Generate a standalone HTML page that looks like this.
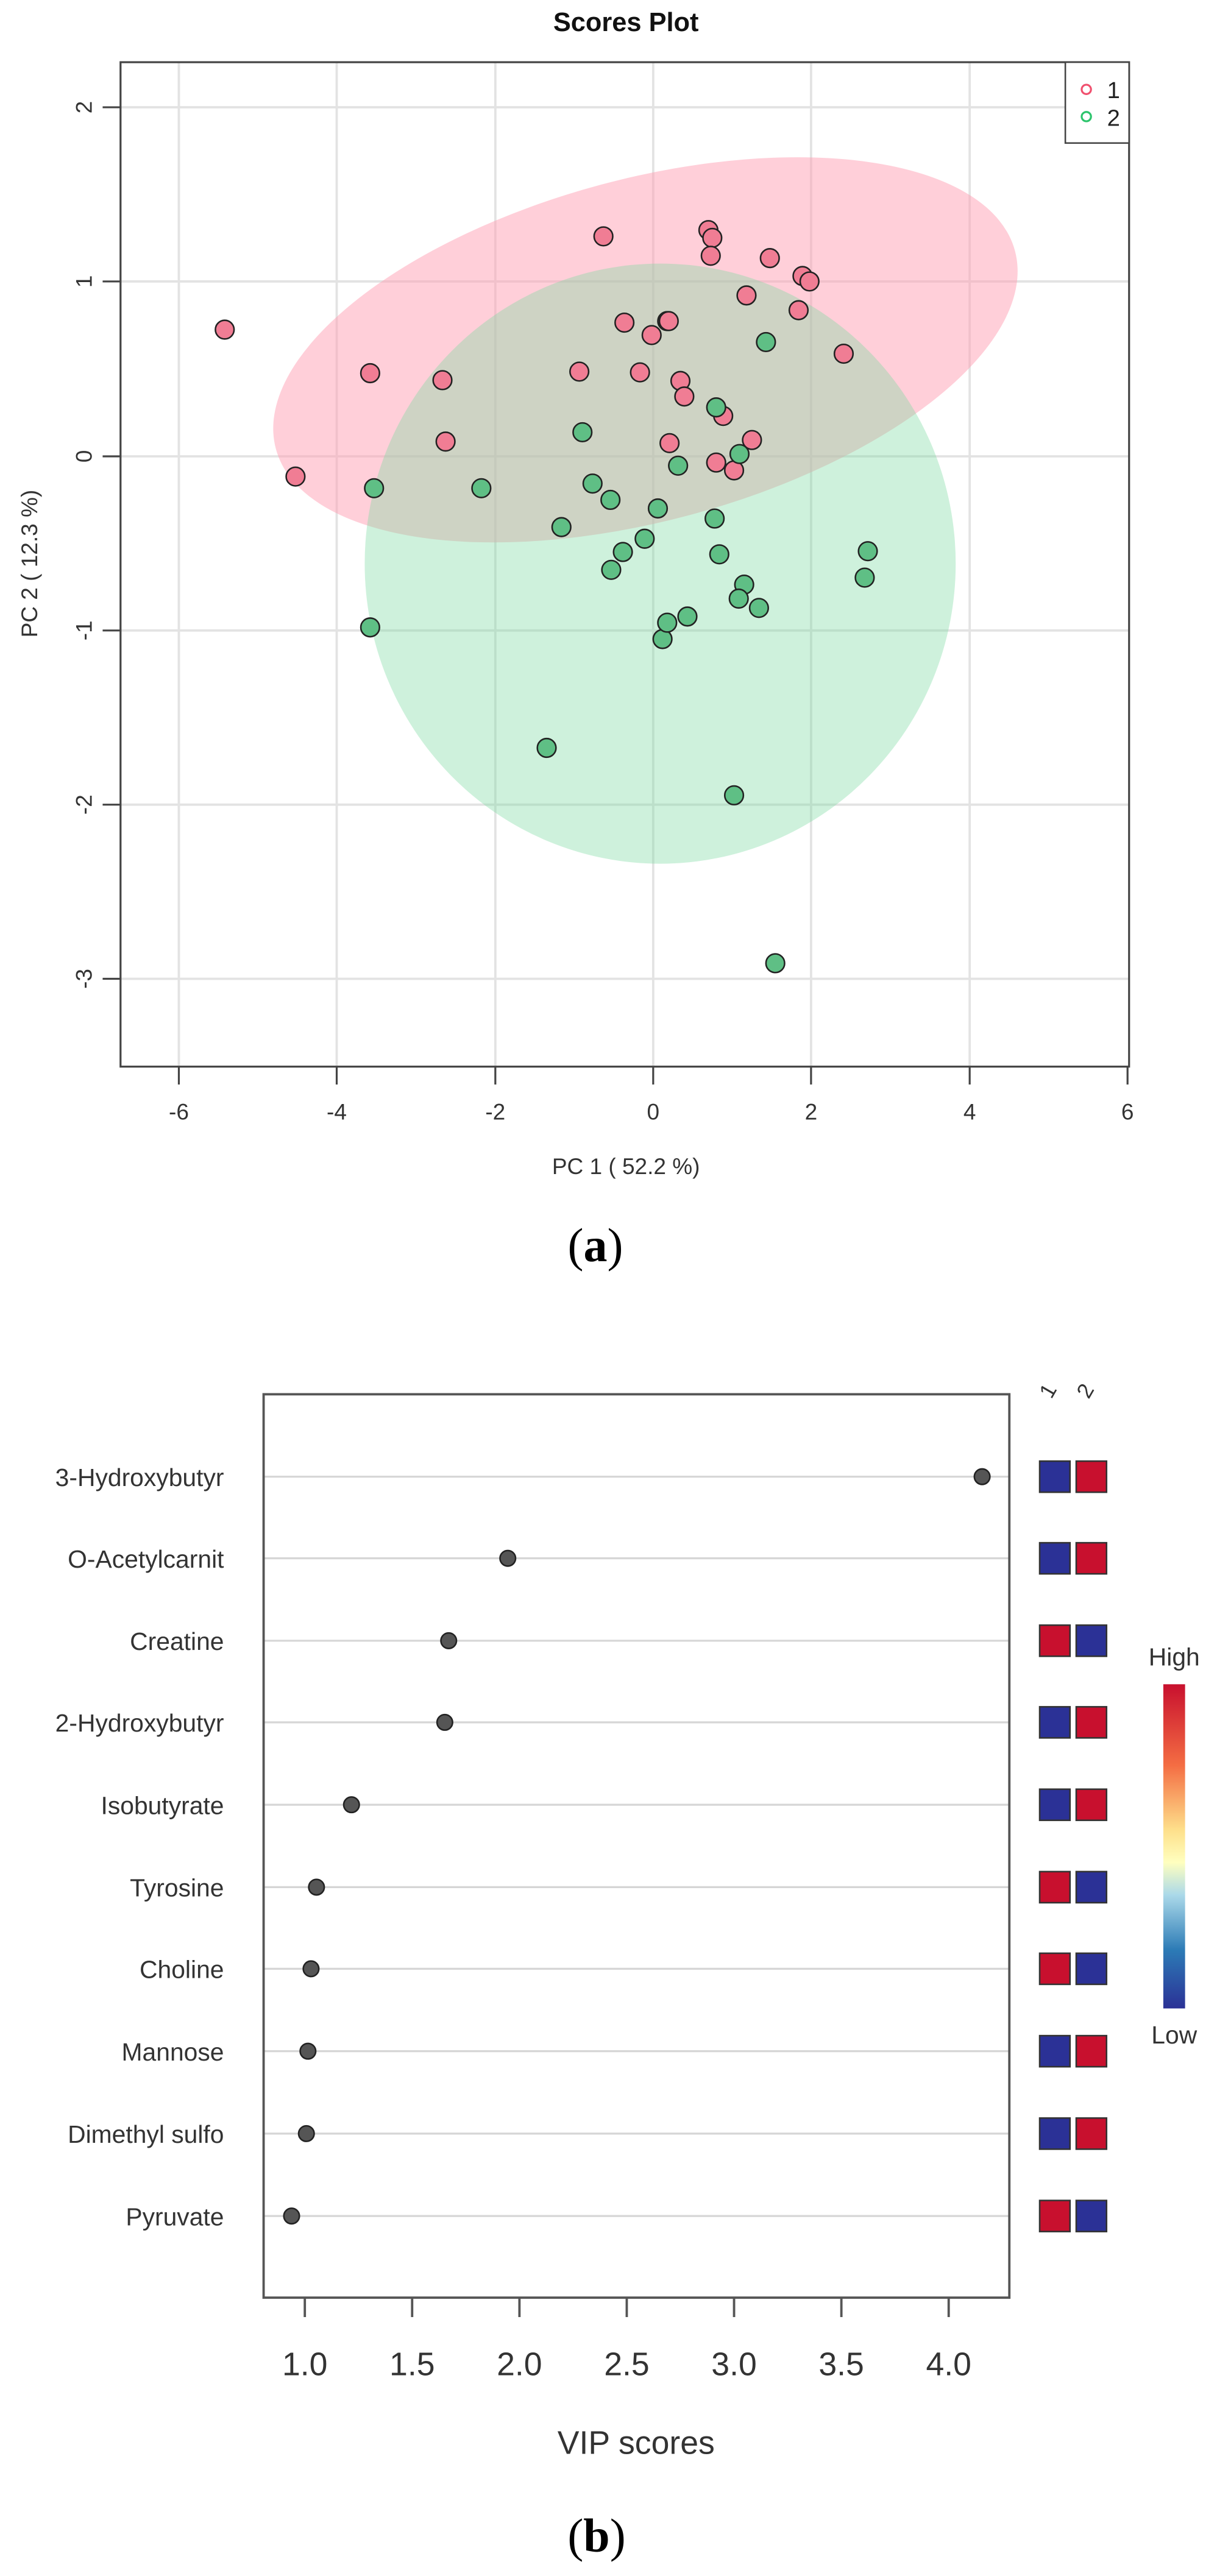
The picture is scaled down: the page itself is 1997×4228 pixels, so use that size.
<!DOCTYPE html>
<html><head><meta charset="utf-8"><style>html,body{margin:0;padding:0;background:#fff}svg{display:block}</style></head>
<body>
<svg width="1997" height="4228" viewBox="0 0 1997 4228" xmlns="http://www.w3.org/2000/svg" font-family="Liberation Sans, sans-serif">
<rect width="1997" height="4228" fill="#fff"/>
<g transform="scale(1.276)">
  <text x="805" y="40" font-size="34" font-weight="bold" text-anchor="middle" fill="#111">Scores Plot</text>
  <g stroke="#e3e3e3" stroke-width="3">
    <line x1="230" y1="80" x2="230" y2="1372"/><line x1="433" y1="80" x2="433" y2="1372"/><line x1="637" y1="80" x2="637" y2="1372"/><line x1="840" y1="80" x2="840" y2="1372"/><line x1="1043" y1="80" x2="1043" y2="1372"/><line x1="1247" y1="80" x2="1247" y2="1372"/>
    <line x1="155" y1="138" x2="1452" y2="138"/><line x1="155" y1="362" x2="1452" y2="362"/><line x1="155" y1="587" x2="1452" y2="587"/><line x1="155" y1="811" x2="1452" y2="811"/><line x1="155" y1="1035" x2="1452" y2="1035"/><line x1="155" y1="1259" x2="1452" y2="1259"/>
  </g>
  <ellipse cx="830" cy="450" rx="492" ry="220" transform="rotate(-15 830 450)" fill="#ff9fb4" fill-opacity="0.5"/>
  <ellipse cx="849" cy="725" rx="380" ry="386" fill="#7fd9a4" fill-opacity="0.38"/>
  <rect x="155" y="80" width="1297" height="1292" fill="none" stroke="#444" stroke-width="2.5"/>
  <g stroke="#444" stroke-width="2.5">
    <line x1="230" y1="1372" x2="230" y2="1395"/><line x1="433" y1="1372" x2="433" y2="1395"/><line x1="637" y1="1372" x2="637" y2="1395"/><line x1="840" y1="1372" x2="840" y2="1395"/><line x1="1043" y1="1372" x2="1043" y2="1395"/><line x1="1247" y1="1372" x2="1247" y2="1395"/><line x1="1450" y1="1372" x2="1450" y2="1395"/>
    <line x1="155" y1="138" x2="132" y2="138"/><line x1="155" y1="362" x2="132" y2="362"/><line x1="155" y1="587" x2="132" y2="587"/><line x1="155" y1="811" x2="132" y2="811"/><line x1="155" y1="1035" x2="132" y2="1035"/><line x1="155" y1="1259" x2="132" y2="1259"/>
  </g>
  <g font-size="29" fill="#333" text-anchor="middle">
    <text x="230" y="1440">-6</text><text x="433" y="1440">-4</text><text x="637" y="1440">-2</text><text x="840" y="1440">0</text><text x="1043" y="1440">2</text><text x="1247" y="1440">4</text><text x="1450" y="1440">6</text>
    <text transform="translate(118 138) rotate(-90)">2</text><text transform="translate(118 362) rotate(-90)">1</text><text transform="translate(118 587) rotate(-90)">0</text><text transform="translate(118 811) rotate(-90)">-1</text><text transform="translate(118 1035) rotate(-90)">-2</text><text transform="translate(118 1259) rotate(-90)">-3</text>
    <text x="805" y="1510">PC 1 ( 52.2 %)</text>
    <text transform="translate(48 725) rotate(-90)">PC 2 ( 12.3 %)</text>
  </g>
  <rect x="1370" y="80" width="82" height="104" fill="#fff" stroke="#444" stroke-width="2"/>
  <circle cx="1397" cy="115" r="6" fill="none" stroke="#f0506e" stroke-width="2.5"/>
  <circle cx="1397" cy="150" r="6" fill="none" stroke="#2cc46c" stroke-width="2.5"/>
  <text x="1432" y="126" font-size="30" text-anchor="middle" fill="#222">1</text>
  <text x="1432" y="162" font-size="30" text-anchor="middle" fill="#222">2</text>
  <g stroke="#222" stroke-width="2" fill="#f07d94">
    <circle cx="289" cy="424" r="12"/><circle cx="380" cy="613" r="12"/><circle cx="476" cy="480" r="12"/><circle cx="569" cy="489" r="12"/><circle cx="573" cy="568" r="12"/><circle cx="745" cy="478" r="12"/><circle cx="776" cy="304" r="12"/><circle cx="803" cy="415" r="12"/><circle cx="823" cy="479" r="12"/><circle cx="838" cy="431" r="12"/><circle cx="858" cy="413" r="12"/><circle cx="860" cy="413" r="12"/><circle cx="861" cy="570" r="12"/><circle cx="875" cy="490" r="12"/><circle cx="880" cy="510" r="12"/><circle cx="911" cy="296" r="12"/><circle cx="916" cy="306" r="12"/><circle cx="914" cy="329" r="12"/><circle cx="930" cy="535" r="12"/><circle cx="921" cy="595" r="12"/><circle cx="944" cy="605" r="12"/><circle cx="967" cy="566" r="12"/><circle cx="960" cy="380" r="12"/><circle cx="990" cy="332" r="12"/><circle cx="1032" cy="355" r="12"/><circle cx="1041" cy="362" r="12"/><circle cx="1027" cy="399" r="12"/><circle cx="1085" cy="455" r="12"/>
  </g>
  <g stroke="#222" stroke-width="2" fill="#5fbf85">
    <circle cx="481" cy="628" r="12"/><circle cx="476" cy="807" r="12"/><circle cx="619" cy="628" r="12"/><circle cx="722" cy="678" r="12"/><circle cx="749" cy="556" r="12"/><circle cx="762" cy="622" r="12"/><circle cx="785" cy="643" r="12"/><circle cx="786" cy="733" r="12"/><circle cx="801" cy="710" r="12"/><circle cx="829" cy="693" r="12"/><circle cx="846" cy="654" r="12"/><circle cx="872" cy="599" r="12"/><circle cx="852" cy="822" r="12"/><circle cx="858" cy="801" r="12"/><circle cx="884" cy="793" r="12"/><circle cx="921" cy="524" r="12"/><circle cx="919" cy="667" r="12"/><circle cx="925" cy="713" r="12"/><circle cx="951" cy="584" r="12"/><circle cx="957" cy="752" r="12"/><circle cx="950" cy="770" r="12"/><circle cx="976" cy="782" r="12"/><circle cx="985" cy="440" r="12"/><circle cx="1116" cy="709" r="12"/><circle cx="1112" cy="743" r="12"/><circle cx="703" cy="962" r="12"/><circle cx="944" cy="1023" r="12"/><circle cx="997" cy="1239" r="12"/>
  </g>
</g>
<text x="977" y="2070" font-family="Liberation Serif, serif" font-size="78" text-anchor="middle" fill="#000">(<tspan font-weight="bold">a</tspan>)</text>
<g transform="translate(0 2231) scale(1.276)">
  <g stroke="#d6d6d6" stroke-width="2.5">
    <line x1="339" y1="151" x2="1298" y2="151"/><line x1="339" y1="256" x2="1298" y2="256"/><line x1="339" y1="362" x2="1298" y2="362"/><line x1="339" y1="467" x2="1298" y2="467"/><line x1="339" y1="573" x2="1298" y2="573"/><line x1="339" y1="679" x2="1298" y2="679"/><line x1="339" y1="784" x2="1298" y2="784"/><line x1="339" y1="890" x2="1298" y2="890"/><line x1="339" y1="996" x2="1298" y2="996"/><line x1="339" y1="1102" x2="1298" y2="1102"/>
  </g>
  <rect x="339" y="45" width="959" height="1162" fill="none" stroke="#555" stroke-width="3"/>
  <g stroke="#555" stroke-width="3">
    <line x1="392" y1="1207" x2="392" y2="1232"/><line x1="530" y1="1207" x2="530" y2="1232"/><line x1="668" y1="1207" x2="668" y2="1232"/><line x1="806" y1="1207" x2="806" y2="1232"/><line x1="944" y1="1207" x2="944" y2="1232"/><line x1="1082" y1="1207" x2="1082" y2="1232"/><line x1="1220" y1="1207" x2="1220" y2="1232"/>
  </g>
  <g font-size="42" fill="#333" text-anchor="middle">
    <text x="392" y="1307">1.0</text><text x="530" y="1307">1.5</text><text x="668" y="1307">2.0</text><text x="806" y="1307">2.5</text><text x="944" y="1307">3.0</text><text x="1082" y="1307">3.5</text><text x="1220" y="1307">4.0</text>
    <text x="818" y="1408">VIP scores</text>
  </g>
  <g font-size="32" fill="#333" text-anchor="end">
    <text x="288" y="163">3-Hydroxybutyr</text><text x="288" y="268">O-Acetylcarnit</text><text x="288" y="374">Creatine</text><text x="288" y="479">2-Hydroxybutyr</text><text x="288" y="585">Isobutyrate</text><text x="288" y="691">Tyrosine</text><text x="288" y="796">Choline</text><text x="288" y="902">Mannose</text><text x="288" y="1008">Dimethyl sulfo</text><text x="288" y="1114">Pyruvate</text>
  </g>
  <g fill="#555" stroke="#222" stroke-width="2">
    <circle cx="1263" cy="151" r="10"/><circle cx="653" cy="256" r="10"/><circle cx="577" cy="362" r="10"/><circle cx="572" cy="467" r="10"/><circle cx="452" cy="573" r="10"/><circle cx="407" cy="679" r="10"/><circle cx="400" cy="784" r="10"/><circle cx="396" cy="890" r="10"/><circle cx="394" cy="996" r="10"/><circle cx="375" cy="1102" r="10"/>
  </g>
  <g stroke="#333" stroke-width="2">
    <rect x="1337" y="131" width="39" height="40" fill="#2b3196"/><rect x="1384" y="131" width="39" height="40" fill="#c8102e"/>
    <rect x="1337" y="236" width="39" height="40" fill="#2b3196"/><rect x="1384" y="236" width="39" height="40" fill="#c8102e"/>
    <rect x="1337" y="342" width="39" height="40" fill="#c8102e"/><rect x="1384" y="342" width="39" height="40" fill="#2b3196"/>
    <rect x="1337" y="447" width="39" height="40" fill="#2b3196"/><rect x="1384" y="447" width="39" height="40" fill="#c8102e"/>
    <rect x="1337" y="553" width="39" height="40" fill="#2b3196"/><rect x="1384" y="553" width="39" height="40" fill="#c8102e"/>
    <rect x="1337" y="659" width="39" height="40" fill="#c8102e"/><rect x="1384" y="659" width="39" height="40" fill="#2b3196"/>
    <rect x="1337" y="764" width="39" height="40" fill="#c8102e"/><rect x="1384" y="764" width="39" height="40" fill="#2b3196"/>
    <rect x="1337" y="870" width="39" height="40" fill="#2b3196"/><rect x="1384" y="870" width="39" height="40" fill="#c8102e"/>
    <rect x="1337" y="976" width="39" height="40" fill="#2b3196"/><rect x="1384" y="976" width="39" height="40" fill="#c8102e"/>
    <rect x="1337" y="1082" width="39" height="40" fill="#c8102e"/><rect x="1384" y="1082" width="39" height="40" fill="#2b3196"/>
  </g>
  <text transform="translate(1352 52) rotate(-60)" font-size="28" fill="#333">1</text>
  <text transform="translate(1400 52) rotate(-60)" font-size="28" fill="#333">2</text>
  <defs><linearGradient id="cb" x1="0" y1="0" x2="0" y2="1">
    <stop offset="0" stop-color="#c8102e"/><stop offset="0.25" stop-color="#f46d43"/><stop offset="0.45" stop-color="#fee08b"/><stop offset="0.55" stop-color="#ffffbf"/><stop offset="0.65" stop-color="#abd9e9"/><stop offset="0.82" stop-color="#2c7bb6"/><stop offset="1" stop-color="#2b3196"/>
  </linearGradient></defs>
  <rect x="1496" y="418" width="28" height="417" fill="url(#cb)"/>
  <text x="1510" y="394" font-size="32" text-anchor="middle" fill="#333">High</text>
  <text x="1510" y="880" font-size="32" text-anchor="middle" fill="#333">Low</text>
</g>
<text x="979" y="4188" font-family="Liberation Serif, serif" font-size="78" text-anchor="middle" fill="#000">(<tspan font-weight="bold">b</tspan>)</text>
</svg>
</body></html>
